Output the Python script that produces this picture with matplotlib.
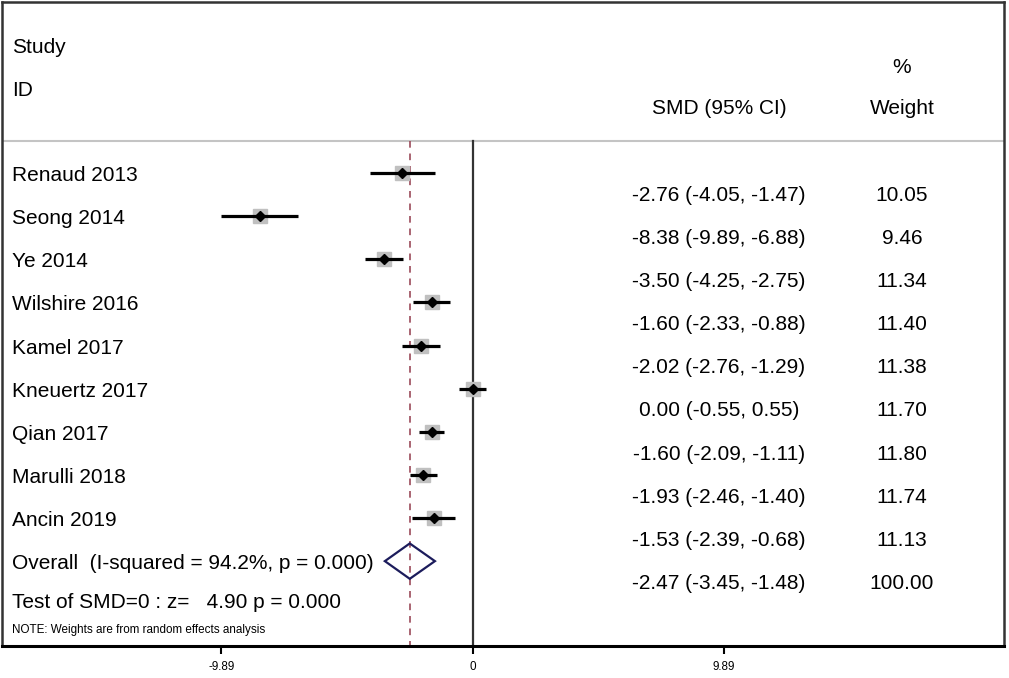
import matplotlib
matplotlib.use("Agg")
import matplotlib.pyplot as plt
import matplotlib.transforms as mtransforms
import numpy as np

plt.rcParams['font.family'] = ['Liberation Sans', 'DejaVu Sans']

studies = ["Renaud 2013", "Seong 2014", "Ye 2014", "Wilshire 2016", "Kamel 2017",
           "Kneuertz 2017", "Qian 2017", "Marulli 2018", "Ancin 2019"]
smd = [-2.76, -8.38, -3.50, -1.60, -2.02, 0.00, -1.60, -1.93, -1.53]
ci_low = [-4.05, -9.89, -4.25, -2.33, -2.76, -0.55, -2.09, -2.46, -2.39]
ci_high = [-1.47, -6.88, -2.75, -0.88, -1.29, 0.55, -1.11, -1.40, -0.68]
weights = [10.05, 9.46, 11.34, 11.40, 11.38, 11.70, 11.80, 11.74, 11.13]
overall_smd = -2.47
overall_low = -3.45
overall_high = -1.48
overall_weight = 100.00
tick_values = [-9.89, 0, 9.89]
tick_labels = ["-9.89", "0", "9.89"]

W, H = 1009, 678
fig = plt.figure(figsize=(W / 100, H / 100), dpi=100)
left_px, right_px, top_px, bot_px = 2, 1004, 2, 646
ax = fig.add_axes([left_px / W, (H - bot_px) / H, (right_px - left_px) / W, (bot_px - top_px) / H])

zero_px, scale = 472.5, 25.4
ax.set_xlim((left_px - zero_px) / scale, (right_px - zero_px) / scale)
row0, rowh = 173, 43.125
ax.set_ylim((bot_px - row0) / rowh, (top_px - row0) / rowh)

n = len(studies)
rows = np.arange(n)
overall_row = n
sep_y = (141 - row0) / rowh
ybot = (bot_px - row0) / rowh

# header separator
ax.axhline(sep_y, color="#c4c4c4", lw=1.5, zorder=1)
# null line and overall dashed line
ax.plot([0, 0], [sep_y, ybot], color="#333333", lw=1.6, zorder=2)
ax.plot([overall_smd, overall_smd], [sep_y, ybot], color="#9b4a5a", lw=1.2,
        dashes=(4, 3.5), zorder=2)

# study estimates
for i in range(n):
    side_px = 4.3 * np.sqrt(weights[i])
    ax.plot([smd[i]], [rows[i]], marker="s", ms=side_px * 0.72, mfc="#c0c0c0",
            mec="#c0c0c0", ls="none", zorder=3)
    ax.plot([ci_low[i], ci_high[i]], [rows[i], rows[i]], color="black", lw=2.3,
            solid_capstyle="butt", zorder=4)
    ax.plot([smd[i]], [rows[i]], marker="D", ms=5.5, color="black", ls="none", zorder=5)

# overall diamond
dh = 0.41
ax.fill([overall_low, overall_smd, overall_high, overall_smd],
        [overall_row, overall_row - dh, overall_row, overall_row + dh],
        facecolor="none", edgecolor="#1c1c5c", lw=1.6, zorder=5)

# text
blend = mtransforms.blended_transform_factory(ax.transAxes, ax.transData)
fs = 15
lx = (12 - left_px) / (right_px - left_px)
smd_x = (719 - left_px) / (right_px - left_px)
wt_x = (902 - left_px) / (right_px - left_px)
tshift = 2.5 / rowh

def ry(px):
    return (px - row0) / rowh + tshift

ax.text(lx, ry(45), "Study", transform=blend, fontsize=fs, va="center", ha="left")
ax.text(lx, ry(88), "ID", transform=blend, fontsize=fs, va="center", ha="left")
ax.text(wt_x, ry(65), "%", transform=blend, fontsize=fs, va="center", ha="center")
ax.text(smd_x, ry(106), "SMD (95% CI)", transform=blend, fontsize=fs, va="center", ha="center")
ax.text(wt_x, ry(106), "Weight", transform=blend, fontsize=fs, va="center", ha="center")

off = 0.46
for i in range(n):
    ax.text(lx, rows[i] + tshift, studies[i], transform=blend, fontsize=fs, va="center", ha="left")
    ax.text(smd_x, rows[i] + off + tshift, f"{smd[i]:.2f} ({ci_low[i]:.2f}, {ci_high[i]:.2f})",
            transform=blend, fontsize=fs, va="center", ha="center")
    ax.text(wt_x, rows[i] + off + tshift, f"{weights[i]:.2f}", transform=blend, fontsize=fs,
            va="center", ha="center")

ax.text(lx, overall_row + tshift, "Overall  (I-squared = 94.2%, p = 0.000)", transform=blend,
        fontsize=fs, va="center", ha="left")
ax.text(smd_x, overall_row + off + tshift,
        f"{overall_smd:.2f} ({overall_low:.2f}, {overall_high:.2f})",
        transform=blend, fontsize=fs, va="center", ha="center")
ax.text(wt_x, overall_row + off + tshift, f"{overall_weight:.2f}", transform=blend, fontsize=fs,
        va="center", ha="center")
ax.text(lx, ry(600), "Test of SMD=0 : z=   4.90 p = 0.000", transform=blend, fontsize=fs,
        va="center", ha="left")
ax.text(lx, ry(627), "NOTE: Weights are from random effects analysis", transform=blend,
        fontsize=8.4, va="center", ha="left")

# axes styling
for s in ["top", "left", "right"]:
    ax.spines[s].set_color("#333333")
    ax.spines[s].set_linewidth(1.8)
ax.spines["bottom"].set_color("black")
ax.spines["bottom"].set_linewidth(2.2)
ax.set_yticks([])
ax.set_xticks(tick_values)
ax.set_xticklabels(tick_labels, fontsize=8.4)
ax.tick_params(axis="x", direction="out", length=6, width=1.5, pad=5, color="black")

fig.savefig("out.png", dpi=100)
